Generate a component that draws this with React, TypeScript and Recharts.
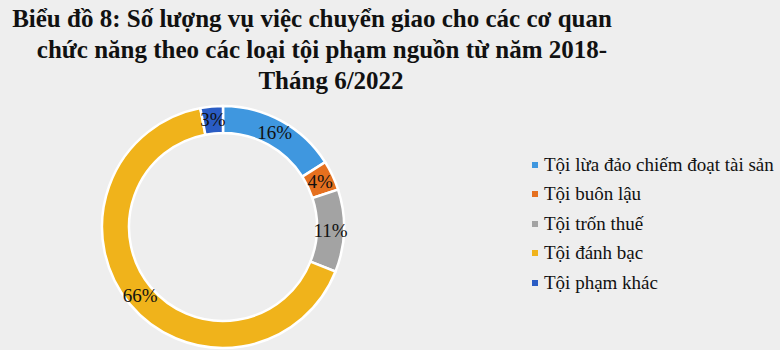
import { Cell, Pie, PieChart } from "recharts";

const categories = [
  "Tội lừa đảo chiếm đoạt tài sản",
  "Tội buôn lậu",
  "Tội trốn thuế",
  "Tội đánh bạc",
  "Tội phạm khác",
];
const shares = [16, 4, 11, 66, 3];
const colors = ["#3f97df", "#e5701f", "#a3a3a3", "#f0b31b", "#2a5cc4"];
const titleLines = [
  "Biểu đồ 8: Số lượng vụ việc chuyển giao cho các cơ quan",
  "chức năng theo các loại tội phạm nguồn từ năm 2018-",
  "Tháng 6/2022",
];
// small horizontal nudges so each title line sits where the original has it
const titleShift = [-3, 7, 16];

const data = categories.map((name, i) => ({ name, value: shares[i] }));

const RAD = Math.PI / 180;
const FONT = '"Liberation Serif", "Times New Roman", serif';

function renderLabel(props: any) {
  const { cx, cy, midAngle, innerRadius, outerRadius, value } = props;
  const r = (innerRadius + outerRadius) / 2;
  const x = cx + r * Math.cos(-midAngle * RAD);
  const y = cy + r * Math.sin(-midAngle * RAD);
  return (
    <text x={x} y={y} fill="#111" fontSize={19} fontFamily={FONT} textAnchor="middle" dominantBaseline="central">
      {`${value}%`}
    </text>
  );
}

export default function App() {
  return (
    <div style={{ position: "fixed", left: 0, top: 0, width: 780, height: 350, background: "#eeeeee", overflow: "hidden" }}>
      <div
        style={{
          position: "absolute",
          left: 0,
          top: 3,
          width: 630,
          textAlign: "center",
          fontFamily: FONT,
          fontWeight: "bold",
          fontSize: 25,
          lineHeight: "31px",
          color: "#111",
        }}
      >
        {titleLines.map((t, i) => (
          <div key={t} style={{ transform: `translateX(${titleShift[i]}px)` }}>
            {t}
          </div>
        ))}
      </div>
      <PieChart width={780} height={350} style={{ position: "absolute", left: 0, top: 0 }}>
        <Pie
          data={data}
          dataKey="value"
          nameKey="name"
          cx={218}
          cy={222}
          innerRadius={94}
          outerRadius={121}
          startAngle={90}
          endAngle={-270}
          stroke="#ffffff"
          strokeWidth={2.5}
          label={renderLabel}
          labelLine={false}
          isAnimationActive={false}
        >
          {data.map((d, i) => (
            <Cell key={d.name} fill={colors[i]} />
          ))}
        </Pie>
      </PieChart>
      <ul
        style={{
          position: "absolute",
          left: 532,
          top: 150,
          listStyle: "none",
          margin: 0,
          padding: 0,
          fontFamily: FONT,
        }}
      >
        {categories.map((c, i) => (
          <li key={c} style={{ display: "flex", alignItems: "center", height: 29.5, fontSize: 19, color: "#111", whiteSpace: "nowrap" }}>
            <span style={{ width: 6, height: 6, background: colors[i], marginRight: 6, display: "inline-block" }} />
            {c}
          </li>
        ))}
      </ul>
    </div>
  );
}
